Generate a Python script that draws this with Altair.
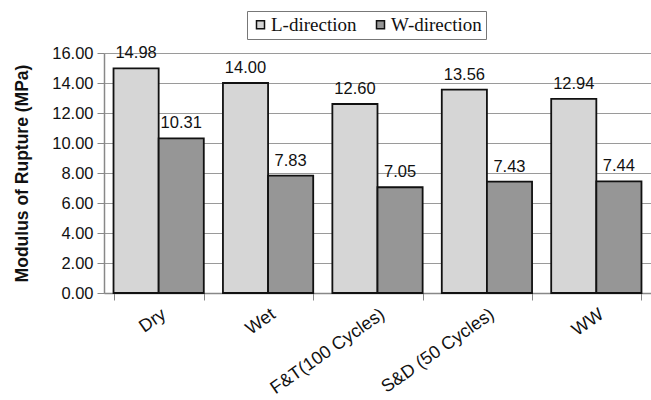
import altair as alt
import pandas as pd

# Modulus of rupture by exposure condition, for both panel directions
conditions = ["Dry", "Wet", "F&T(100 Cycles)", "S&D (50 Cycles)", "WW"]
directions = ["L-direction", "W-direction"]
l_direction = [14.98, 14.00, 12.60, 13.56, 12.94]
w_direction = [10.31, 7.83, 7.05, 7.43, 7.44]
y_ticks = [0, 2, 4, 6, 8, 10, 12, 14, 16]

rows = []
for cond, lv, wv in zip(conditions, l_direction, w_direction):
    rows.append({"Condition": cond, "Direction": directions[0], "MOR": lv})
    rows.append({"Condition": cond, "Direction": directions[1], "MOR": wv})
df = pd.DataFrame(rows)

SANS = "Liberation Sans"
SERIF = "Liberation Serif"

x_enc = alt.X(
    "Condition:N",
    sort=conditions,
    scale=alt.Scale(paddingInner=0.175, paddingOuter=0.087),
    axis=alt.Axis(
        title=None,
        labelAngle=-35,
        labelAlign="right",
        labelBaseline="top",
        labelFont=SANS,
        labelFontSize=18,
        labelColor="#111",
        labelPadding=5,
        labelOverlap=False,
        tickBand="extent",
        tickSize=7,
        tickColor="#888",
        domainColor="#888",
        domainWidth=1.5,
        grid=False,
    ),
)
xoff_enc = alt.XOffset("Direction:N", sort=directions,
                       scale=alt.Scale(paddingInner=0, paddingOuter=0))
y_enc = alt.Y(
    "MOR:Q",
    scale=alt.Scale(domain=[0, 16], nice=False),
    axis=alt.Axis(
        title="Modulus of Rupture (MPa)",
        titleFont=SANS,
        titleFontSize=17.5,
        titleFontWeight="bold",
        titleColor="#111",
        titlePadding=20,
        values=y_ticks,
        tickCount=len(y_ticks),
        format=".2f",
        labelFont=SANS,
        labelFontSize=16.5,
        labelColor="#111",
        labelPadding=4,
        labelOverlap=False,
        tickSize=7,
        tickColor="#888",
        domainColor="#888",
        domainWidth=1.5,
        gridColor="#9a9a9a",
        gridWidth=1,
    ),
)

bars = alt.Chart(df).mark_bar(stroke="#111", strokeWidth=1.8).encode(
    x=x_enc,
    xOffset=xoff_enc,
    y=y_enc,
    fill=alt.Fill(
        "Direction:N",
        sort=directions,
        scale=alt.Scale(domain=directions, range=["#d6d6d6", "#969696"]),
        legend=alt.Legend(
            title=None,
            orient="none",
            legendX=143,
            legendY=-42,
            direction="horizontal",
            strokeColor="#777",
            padding=4,
            labelFont=SERIF,
            labelFontSize=19,
            labelColor="#111",
            symbolType="square",
            symbolSize=64,
            symbolStrokeColor="#111",
            symbolStrokeWidth=1.5,
            labelOffset=1,
            columnPadding=14,
        ),
    ),
)

labels = alt.Chart(df).mark_text(
    font=SANS, fontSize=16.5, color="#111", baseline="bottom", dy=-7
).encode(
    x=x_enc,
    xOffset=xoff_enc,
    y=y_enc,
    text=alt.Text("MOR:Q", format=".2f"),
)

chart = (
    alt.layer(bars, labels)
    .properties(
        width=547,
        height=240,
        autosize=alt.AutoSizeParams(type="none"),
        padding={"left": 104, "top": 53, "right": 0, "bottom": 107},
    )
    .configure_view(stroke=None)
    .configure(background="white")
)

chart.save("out.html", embed_options={"renderer": "svg", "actions": False})
